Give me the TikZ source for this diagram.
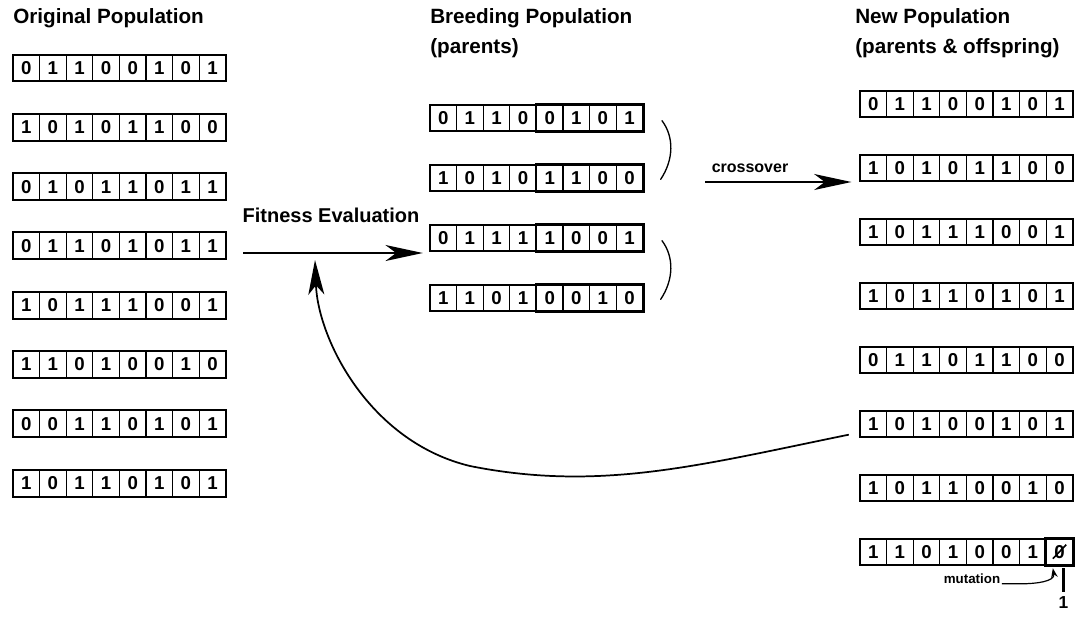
\documentclass[tikz,border=0pt]{standalone}
\usepackage{fontspec}
\setmainfont{Liberation Sans}
\usetikzlibrary{arrows.meta}

% one chromosome: #1 name, #2 left x, #3 centre y, #4 bits
\newcommand\chromo[4]{%
  \foreach \b [count=\i] in {#4} {
    \node[cell] (#1-\i) at ({#2+(\i-0.5)*26.6},#3) {\b};
  }
  \draw[rowframe] (#1-1.north west) rectangle (#1-8.south east);
}

\begin{document}
\begin{tikzpicture}[x=0.75pt,y=-0.75pt,
  cell/.style={draw, line width=0.8pt, minimum width=19.95pt, minimum height=19.5pt,
    inner sep=0pt, font=\bfseries\fontsize{14}{14}\selectfont},
  rowframe/.style={line width=1.4pt},
  half/.style={line width=1.9pt},
  title/.style={anchor=west, inner sep=0pt, font=\bfseries\fontsize{15.5}{17}\selectfont},
  label/.style={inner sep=0pt, font=\bfseries\fontsize{15}{17}\selectfont},
  bigarrow/.style={line width=1.6pt, -{Stealth[length=28pt, width=12pt, inset=8pt]}},
  brace/.style={line width=1pt, line cap=round}]

\useasboundingbox (0,0) rectangle (1088,618);

% column headings
\node[title] (t1) at (13,18) {Original Population};
\node[title] (t2) at (430,18) {Breeding Population};
\node[title] (t2b) at (430,48) {(parents)};
\node[title] (t3) at (855,18) {New Population};
\node[title] (t3b) at (855,48) {(parents \& offspring)};

% original population
\chromo{A1}{13}{68}{0,1,1,0,0,1,0,1}
\chromo{A2}{13}{127.3}{1,0,1,0,1,1,0,0}
\chromo{A3}{13}{186.6}{0,1,0,1,1,0,1,1}
\chromo{A4}{13}{245.9}{0,1,1,0,1,0,1,1}
\chromo{A5}{13}{305.2}{1,0,1,1,1,0,0,1}
\chromo{A6}{13}{364.5}{1,1,0,1,0,0,1,0}
\chromo{A7}{13}{423.8}{0,0,1,1,0,1,0,1}
\chromo{A8}{13}{483.1}{1,0,1,1,0,1,0,1}

% breeding population, crossover halves framed
\chromo{B1}{430}{118}{0,1,1,0,0,1,0,1}
\chromo{B2}{430}{178}{1,0,1,0,1,1,0,0}
\chromo{B3}{430}{238}{0,1,1,1,1,0,0,1}
\chromo{B4}{430}{298}{1,1,0,1,0,0,1,0}
\foreach \r in {B1,B2,B3,B4}
  \draw[half] (\r-5.north west) rectangle (\r-8.south east);

% new population
\chromo{C1}{860}{104}{0,1,1,0,0,1,0,1}
\chromo{C2}{860}{168}{1,0,1,0,1,1,0,0}
\chromo{C3}{860}{232}{1,0,1,1,1,0,0,1}
\chromo{C4}{860}{296}{1,0,1,1,0,1,0,1}
\chromo{C5}{860}{360}{0,1,1,0,1,1,0,0}
\chromo{C6}{860}{424}{1,0,1,0,0,1,0,1}
\chromo{C7}{860}{488}{1,0,1,1,0,0,1,0}
\chromo{C8}{860}{552}{1,1,0,1,0,0,1,0}
\draw[half] (C8-8.north west) rectangle (C8-8.south east);
\draw[line width=1.2pt] ([shift={(-5pt,-5pt)}]C8-8.center) -- ([shift={(5pt,5.5pt)}]C8-8.center);

% mutation mark
\coordinate (mtop) at ([xshift=3pt,yshift=-2pt]C8-8.south);
\coordinate (mbot) at ([xshift=3pt,yshift=-20pt]C8-8.south);
\draw[line width=2.2pt] (mtop) -- (mbot);
\node[inner sep=0pt, anchor=north, font=\bfseries\fontsize{13}{13}\selectfont] (one) at ([yshift=-3pt]mbot) {1};
\node[inner sep=1pt, font=\bfseries\fontsize{10}{10}\selectfont] (mut) at (972,579) {mutation};
\draw[line width=0.9pt, -{Stealth[length=7pt, width=5pt]}]
  (mut.base east) -- ++(20,0) to[out=0, in=-80] ([xshift=-5pt,yshift=-2pt]C8-8.south);

% fitness evaluation
\node[label] (fit) at (331,215) {Fitness Evaluation};
\coordinate (f0) at (243,253);
\draw[bigarrow, shorten >=5pt] (f0) -- (B3-1.west |- f0);

% crossover
\draw[brace] ([xshift=14pt,yshift=-2pt]B1-8.east) .. controls ([xshift=23pt,yshift=-14pt]B1-8.east) and ([xshift=23pt,yshift=14pt]B2-8.east) .. ([xshift=13pt,yshift=-1pt]B2-8.east);
\draw[brace] ([xshift=14pt,yshift=-2pt]B3-8.east) .. controls ([xshift=23pt,yshift=-14pt]B3-8.east) and ([xshift=23pt,yshift=14pt]B4-8.east) .. ([xshift=13pt,yshift=-1pt]B4-8.east);
\node[inner sep=0pt, font=\bfseries\fontsize{12}{13}\selectfont] (cross) at (750,168) {crossover};
\coordinate (x0) at (705,182);
\draw[bigarrow, shorten >=6pt] (x0) -- (C3-1.west |- x0);

% feedback loop
\coordinate (fb) at (315,260);
\draw[line width=1.3pt, -{Stealth[length=26pt, width=12pt, inset=7pt]}]
  ([xshift=-8pt,yshift=-8pt]C6-1.west) .. controls (700,465) and (600,492) .. (470,466)
  .. controls (370,442) and (318,340) .. (fb);
\end{tikzpicture}
\end{document}
